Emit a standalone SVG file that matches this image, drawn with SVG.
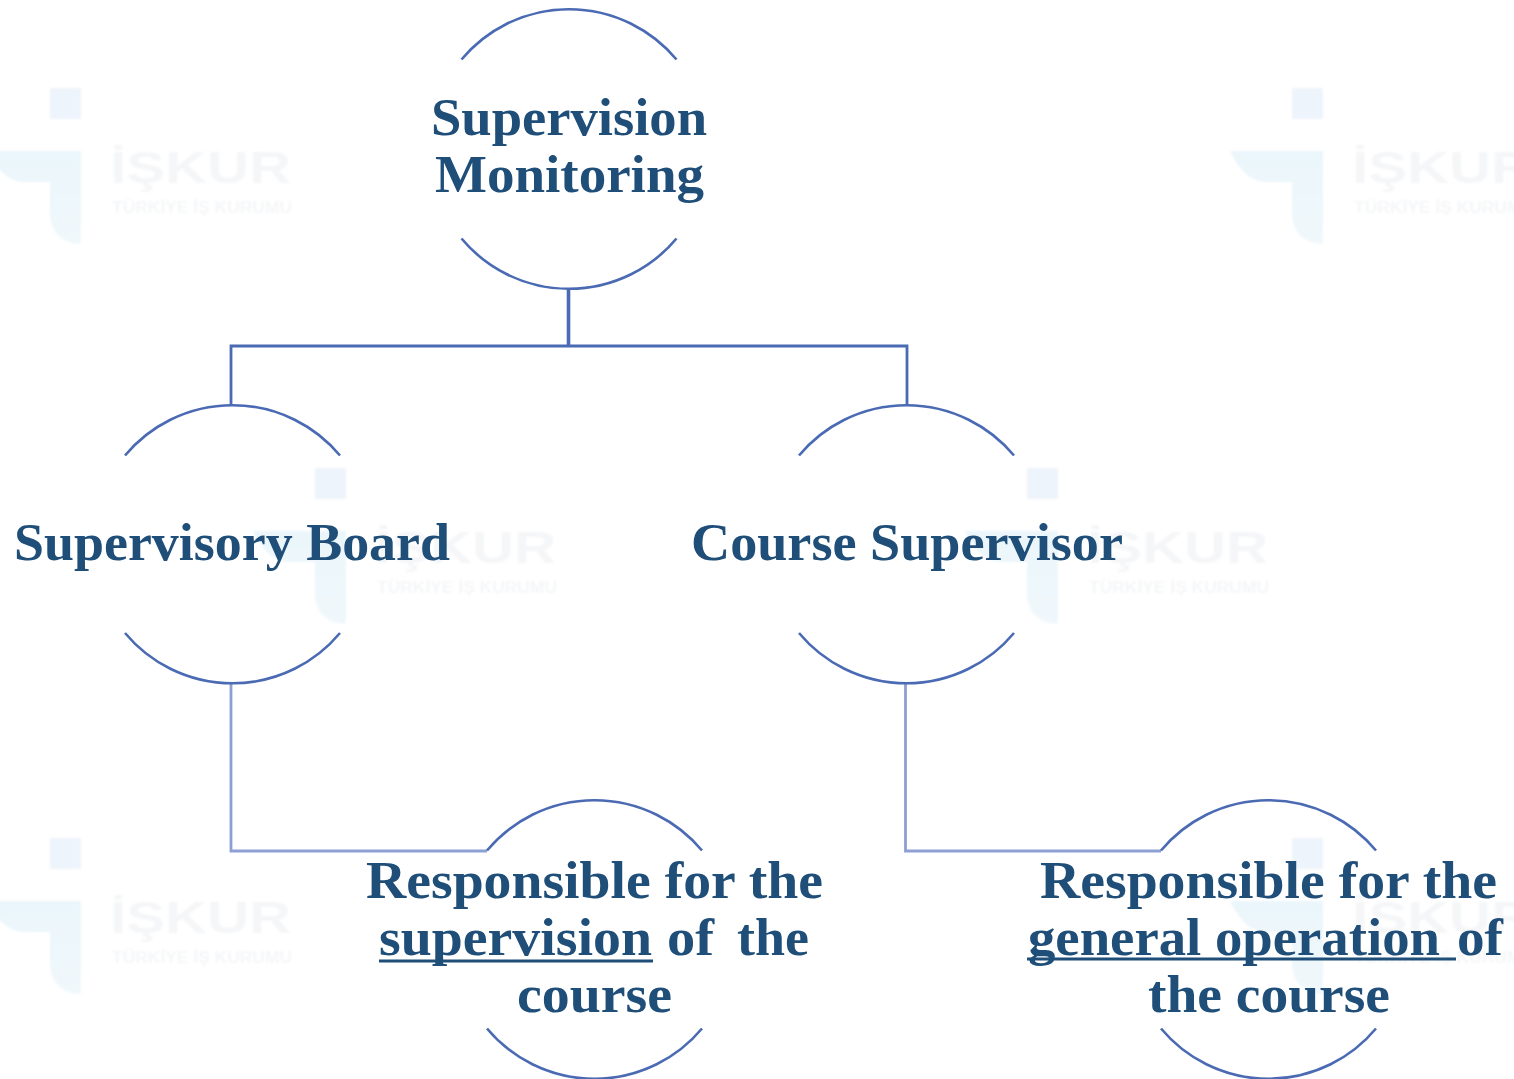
<svg xmlns="http://www.w3.org/2000/svg" width="1514" height="1079" viewBox="0 0 1514 1079">
<style>
.arc{fill:none;stroke:#4a6ab4;stroke-width:2.6}
.main{fill:none;stroke:#4a6ab4;stroke-width:2.8}
.trunk{fill:none;stroke:#4a6ab4;stroke-width:3.6}
.light{fill:none;stroke:#8e9fd4;stroke-width:2.8}
.ul{fill:none;stroke:#1f4e79;stroke-width:3}
.t{font-family:"Liberation Serif","Times New Roman",serif;font-weight:700;font-size:52px;fill:#1f4e79}
.wm1{font-family:"Liberation Sans",Arial,sans-serif;font-weight:700;font-size:44px;fill:#f5f6f8}
.wm2{font-family:"Liberation Sans",Arial,sans-serif;font-weight:700;font-size:16px;fill:#f5f6f8}
</style>
<defs>
<filter id="soft" x="-5%" y="-5%" width="110%" height="110%"><feGaussianBlur stdDeviation="0.9"/></filter>
<linearGradient id="wg" x1="0" y1="0" x2="0" y2="1"><stop offset="0" stop-color="#eaf6fb"/><stop offset="1" stop-color="#f1f8fc"/></linearGradient>
<g id="wm" filter="url(#soft)">
<rect x="50" y="88" width="31" height="31" fill="#eef4fb"/>
<path d="M-12 151H81V244C62 244 50 232 50 214V182H24C8 182 -4 168 -12 151Z" fill="url(#wg)"/>
<text class="wm1" x="110" y="183" textLength="181" lengthAdjust="spacingAndGlyphs">İŞKUR</text>
<text class="wm2" x="112" y="213" textLength="180" lengthAdjust="spacingAndGlyphs">TÜRKİYE İŞ KURUMU</text>
</g>
</defs>
<rect width="1514" height="1079" fill="#fff"/>
<g id="watermarks">
<use href="#wm"/>
<use href="#wm" x="1242"/>
<use href="#wm" x="265" y="380"/>
<use href="#wm" x="977" y="380"/>
<use href="#wm" y="750"/>
<use href="#wm" x="1242" y="750"/>
</g>
<g id="connectors">
<path class="trunk" d="M568.500 288V346"/>
<path class="main" d="M231 405V346H907V405"/>
<path class="light" d="M231 684V851H487"/>
<path class="light" d="M905.500 684V851H1161"/>
</g>
<g id="node-monitoring">
<path class="arc" d="M461.500 59.500A140 140 0 0 1 676.500 59.500M461.500 238.500A140 140 0 0 0 676.500 238.500"/>
<text class="t" x="431" y="135" textLength="276" lengthAdjust="spacingAndGlyphs">Supervision</text>
<text class="t" x="435" y="192" textLength="269" lengthAdjust="spacingAndGlyphs">Monitoring</text>
</g>
<g id="node-board">
<path class="arc" d="M125 455.500A140 140 0 0 1 340 455.500M125 633A140 140 0 0 0 340 633"/>
<text class="t" x="14" y="560" textLength="436" lengthAdjust="spacingAndGlyphs">Supervisory Board</text>
</g>
<g id="node-supervisor">
<path class="arc" d="M799 455.500A140 140 0 0 1 1014 455.500M799 633A140 140 0 0 0 1014 633"/>
<text class="t" x="691" y="560" textLength="432" lengthAdjust="spacingAndGlyphs">Course Supervisor</text>
</g>
<g id="node-resp-supervision">
<path class="arc" d="M487 850.500A140 140 0 0 1 702 850.500M487 1028.500A140 140 0 0 0 702 1028.500"/>
<text class="t" x="366" y="898" textLength="457" lengthAdjust="spacingAndGlyphs">Responsible for the</text>
<text class="t" x="379" y="955" textLength="273" lengthAdjust="spacingAndGlyphs">supervision</text>
<text class="t" x="667" y="955" textLength="47" lengthAdjust="spacingAndGlyphs">of</text>
<text class="t" x="737" y="955" textLength="72" lengthAdjust="spacingAndGlyphs">the</text>
<text class="t" x="517" y="1012" textLength="155" lengthAdjust="spacingAndGlyphs">course</text>
<path class="ul" d="M379 961H653"/>
</g>
<g id="node-resp-operation">
<path class="arc" d="M1161 850.500A140 140 0 0 1 1376 850.500M1161 1028.500A140 140 0 0 0 1376 1028.500"/>
<text class="t" x="1040" y="898" textLength="457" lengthAdjust="spacingAndGlyphs">Responsible for the</text>
<text class="t" x="1028" y="955" textLength="412" lengthAdjust="spacingAndGlyphs">general operation</text>
<text class="t" x="1457" y="955" textLength="46" lengthAdjust="spacingAndGlyphs">of</text>
<text class="t" x="1148" y="1012" textLength="242" lengthAdjust="spacingAndGlyphs">the course</text>
<path class="ul" d="M1027 959H1456"/>
</g>
</svg>
